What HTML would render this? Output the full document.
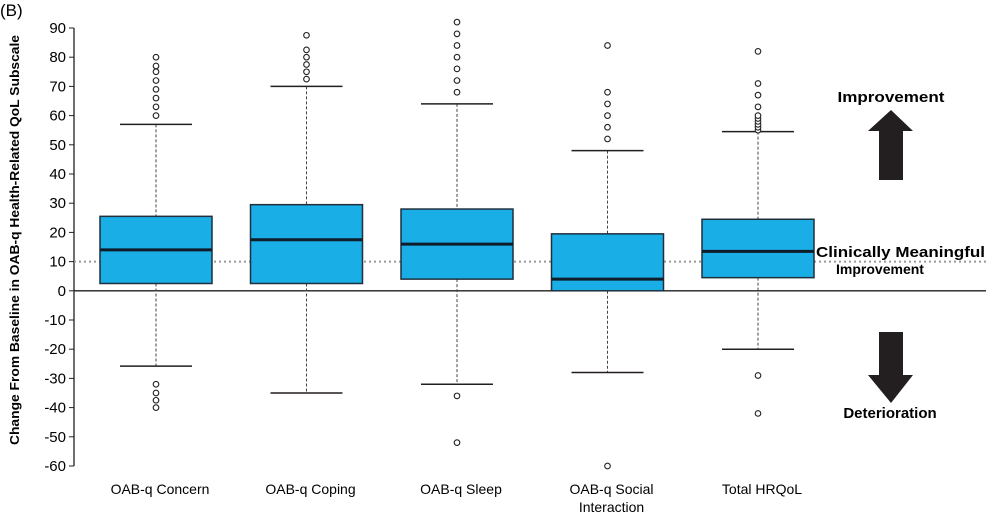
<!DOCTYPE html>
<html><head><meta charset="utf-8"><style>
body{margin:0;background:#fff;}
svg{display:block;font-family:"Liberation Sans",sans-serif;}
</style></head><body>
<svg id="chart" width="986" height="513">
<text x="0" y="16" font-size="17">(B)</text>
<text transform="translate(19,240) rotate(-90)" text-anchor="middle" font-size="13" font-weight="bold" textLength="410" lengthAdjust="spacingAndGlyphs">Change From Baseline in OAB-q Health-Related QoL Subscale</text>
<g id="axis"></g>
<g id="marks"></g>
<text x="891" y="102" text-anchor="middle" font-size="15" font-weight="bold" textLength="107" lengthAdjust="spacingAndGlyphs">Improvement</text>
<polygon points="891,110 913,131 903,131 903,180 879,180 879,131 868,131" fill="#231f20"/>
<text x="816" y="257" font-size="15" font-weight="bold" textLength="169" lengthAdjust="spacingAndGlyphs">Clinically Meaningful</text>
<text x="880" y="274" text-anchor="middle" font-size="14" font-weight="bold">Improvement</text>
<polygon points="879,332 903,332 903,375 913,375 891,403 868,375 879,375" fill="#231f20"/>
<text x="890" y="418" text-anchor="middle" font-size="15" font-weight="bold">Deterioration</text>
</svg>
<script>
const categories = ["OAB-q Concern","OAB-q Coping","OAB-q Sleep","OAB-q Social|Interaction","Total HRQoL"];
const q1 = [2.5, 2.5, 4, 0, 4.5];
const median = [14, 17.5, 16, 4, 13.5];
const q3 = [25.5, 29.5, 28, 19.5, 24.5];
const whiskerLow = [-25.8, -35, -32, -28, -20];
const whiskerHigh = [57, 70, 64, 48, 54.5];
const outliers = [
  [60,63,66,69,72,75,77,80,-32,-35,-37.5,-40],
  [72.5,75,77.5,80,82.5,87.5],
  [68,72,76,80,84,88,92,-36,-52],
  [52,56,60,64,68,84,-60],
  [55,56,57,58,59,60,63,67,71,82,-29,-42]
];
const yTicks = [90,80,70,60,50,40,30,20,10,0,-10,-20,-30,-40,-50,-60];
const threshold = 10;

const NS="http://www.w3.org/2000/svg";
const y = v => 290.8 - v*2.92;
const x = i => 156 + i*150.5;
const boxW = 112;
function mk(tag, attrs, parent){const e=document.createElementNS(NS,tag);for(const k in attrs)e.setAttribute(k,attrs[k]);parent.appendChild(e);return e;}
const axis=document.getElementById('axis'), marks=document.getElementById('marks');
let al=mk('line',{x1:74,x2:74,y1:y(90),y2:y(-60),stroke:'#231f20','stroke-width':1.3},axis);


yTicks.forEach(t=>{
  const tk=mk('line',{x1:69,x2:74,y1:y(t),y2:y(t),stroke:'#231f20'},axis);
  
  
  const tl=mk('text',{x:66,y:y(t)+5,'text-anchor':'end','font-size':15},axis);
  tl.textContent=t;
  
  
});
let th=mk('line',{x1:74,x2:986,y1:y(threshold),y2:y(threshold),stroke:'#999','stroke-width':2,'stroke-dasharray':'2,3'},axis);


let z=mk('line',{x1:74,x2:986,y1:y(0),y2:y(0),stroke:'#231f20','stroke-width':1.3},axis);


categories.forEach((c,i)=>{
  const cx=x(i);
  const g=mk('g',{},marks);
  
  
  mk('line',{x1:cx,x2:cx,y1:y(whiskerHigh[i]),y2:y(q3[i]),stroke:'#444','stroke-dasharray':'3,2'},g);
  mk('line',{x1:cx,x2:cx,y1:y(q1[i]),y2:y(whiskerLow[i]),stroke:'#444','stroke-dasharray':'3,2'},g);
  mk('line',{x1:cx-36,x2:cx+36,y1:y(whiskerHigh[i]),y2:y(whiskerHigh[i]),stroke:'#231f20','stroke-width':1.5},g);
  mk('line',{x1:cx-36,x2:cx+36,y1:y(whiskerLow[i]),y2:y(whiskerLow[i]),stroke:'#231f20','stroke-width':1.5},g);
  mk('rect',{x:cx-boxW/2,y:y(q3[i]),width:boxW,height:y(q1[i])-y(q3[i]),fill:'#1aaee6',stroke:'#1f2f3d','stroke-width':1.5},g);
  mk('line',{x1:cx-boxW/2,x2:cx+boxW/2,y1:y(median[i]),y2:y(median[i]),stroke:'#0f1c2a','stroke-width':3},g);
  outliers[i].forEach(v=>{
    const o=mk('circle',{cx:cx,cy:y(v),r:2.8,fill:'#fff',stroke:'#231f20','stroke-width':1.1},g);
    
    
  });
  c.split('|').forEach((ln,j)=>{
    const t=mk('text',{x:cx+4,y:494+j*18,'text-anchor':'middle','font-size':14},marks);
    t.textContent=ln;
    
    
  });
});
</script>
</body></html>
